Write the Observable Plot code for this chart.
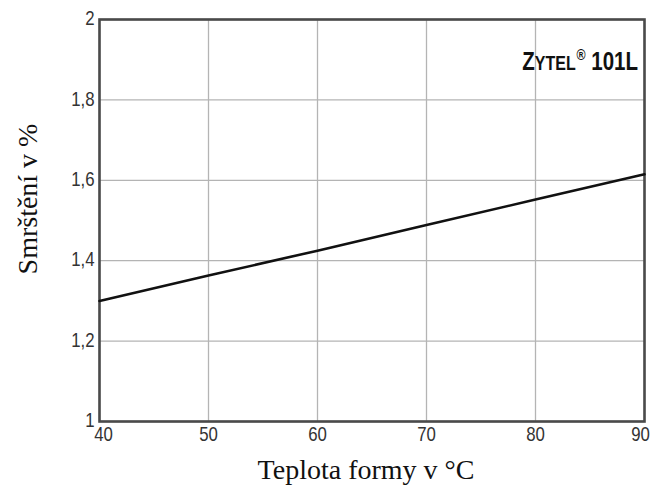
<!DOCTYPE html>
<html>
<head>
<meta charset="utf-8">
<script src="https://cdn.jsdelivr.net/npm/d3@7"></script>
<script src="https://cdn.jsdelivr.net/npm/@observablehq/plot@0.6"></script>
<style>
  html, body { margin: 0; padding: 0; background: #fff; }
  #chart svg { display: block; }
</style>
</head>
<body>
<div id="chart"></div>
<script>
const temperatures = [40, 50, 60, 70, 80, 90];
const shrinkage = [1.30, 1.363, 1.425, 1.489, 1.552, 1.615];
const xTicks = [40, 50, 60, 70, 80, 90];
const yTicks = [1, 1.2, 1.4, 1.6, 1.8, 2];
const xLabel = "Teplota formy v °C";
const yLabel = "Smrštění v %";

const data = temperatures.map((t, i) => ({t, s: shrinkage[i]}));
const tickFont = "'Liberation Sans', Arial, sans-serif";
const serif = "'Liberation Serif', 'DejaVu Serif', serif";

const plot = Plot.plot({
  width: 654,
  height: 486,
  marginLeft: 99,
  marginRight: 10,
  marginTop: 19,
  marginBottom: 65,
  style: {fontFamily: tickFont, fontSize: "21px", color: "#333", background: "#fff"},
  x: {domain: [40, 90], label: null},
  y: {domain: [1, 2], label: null},
  marks: [
    Plot.gridX(xTicks, {stroke: "#b4b4b4", strokeOpacity: 1, strokeWidth: 1.3}),
    Plot.gridY(yTicks, {stroke: "#b4b4b4", strokeOpacity: 1, strokeWidth: 1.3}),
    Plot.frame({stroke: "#4a4a4a", strokeWidth: 2.6}),
    Plot.line(data, {x: "t", y: "s", stroke: "#111", strokeWidth: 2.6}),
    Plot.axisX(xTicks, {tickSize: 0, tickPadding: 5, fontSize: 21, fill: "#333", label: null}),
    Plot.axisY(yTicks, {tickSize: 0, tickPadding: 5, fontSize: 21, fill: "#333", label: null, dy: -1,
      tickFormat: d => String(d).replace(".", ",")})
  ]
});

document.getElementById("chart").appendChild(plot);

const svg = d3.select(plot);
const xs = plot.scale("x");

// condensed look for tick labels
svg.selectAll('g[aria-label="x-axis tick label"] text, g[aria-label="y-axis tick label"] text')
  .each(function() {
    const len = this.getComputedTextLength();
    this.setAttribute("textLength", len * 0.8);
    this.setAttribute("lengthAdjust", "spacingAndGlyphs");
  });
// first and last x labels nudged like the reference
function nudge(sel, dx) {
  if (sel.empty()) return;
  const tr = sel.attr("transform");
  if (tr) sel.attr("transform", tr + ` translate(${dx},0)`);
  else sel.attr("dx", dx);
}
const xLabs = svg.selectAll('g[aria-label="x-axis tick label"] text').nodes();
if (xLabs.length) {
  nudge(d3.select(xLabs[0]), 4);
  nudge(d3.select(xLabs[xLabs.length - 1]), -4);
}

// axis titles
svg.append("text")
  .attr("x", 366)
  .attr("y", 479)
  .attr("text-anchor", "middle")
  .attr("font-family", serif)
  .attr("font-size", 28)
  .attr("fill", "#111")
  .text(xLabel);

svg.append("text")
  .attr("transform", `translate(37, 199) rotate(-90)`)
  .attr("text-anchor", "middle")
  .attr("font-family", serif)
  .attr("font-size", 28)
  .attr("fill", "#111")
  .text(yLabel);

// product label
const lab = svg.append("text")
  .attr("transform", `translate(${xs.apply(90) - 6}, 70) scale(0.82,1)`)
  .attr("text-anchor", "end")
  .attr("font-family", tickFont)
  .attr("font-weight", "bold")
  .attr("fill", "#111");
lab.append("tspan").attr("font-size", 25).text("Z");
lab.append("tspan").attr("font-size", 19.5).text("YTEL");
lab.append("tspan").attr("font-size", 15).attr("dy", -10).attr("dx", 1).text("®");
lab.append("tspan").attr("font-size", 25).attr("dy", 10).text(" 101L");
</script>
</body>
</html>
